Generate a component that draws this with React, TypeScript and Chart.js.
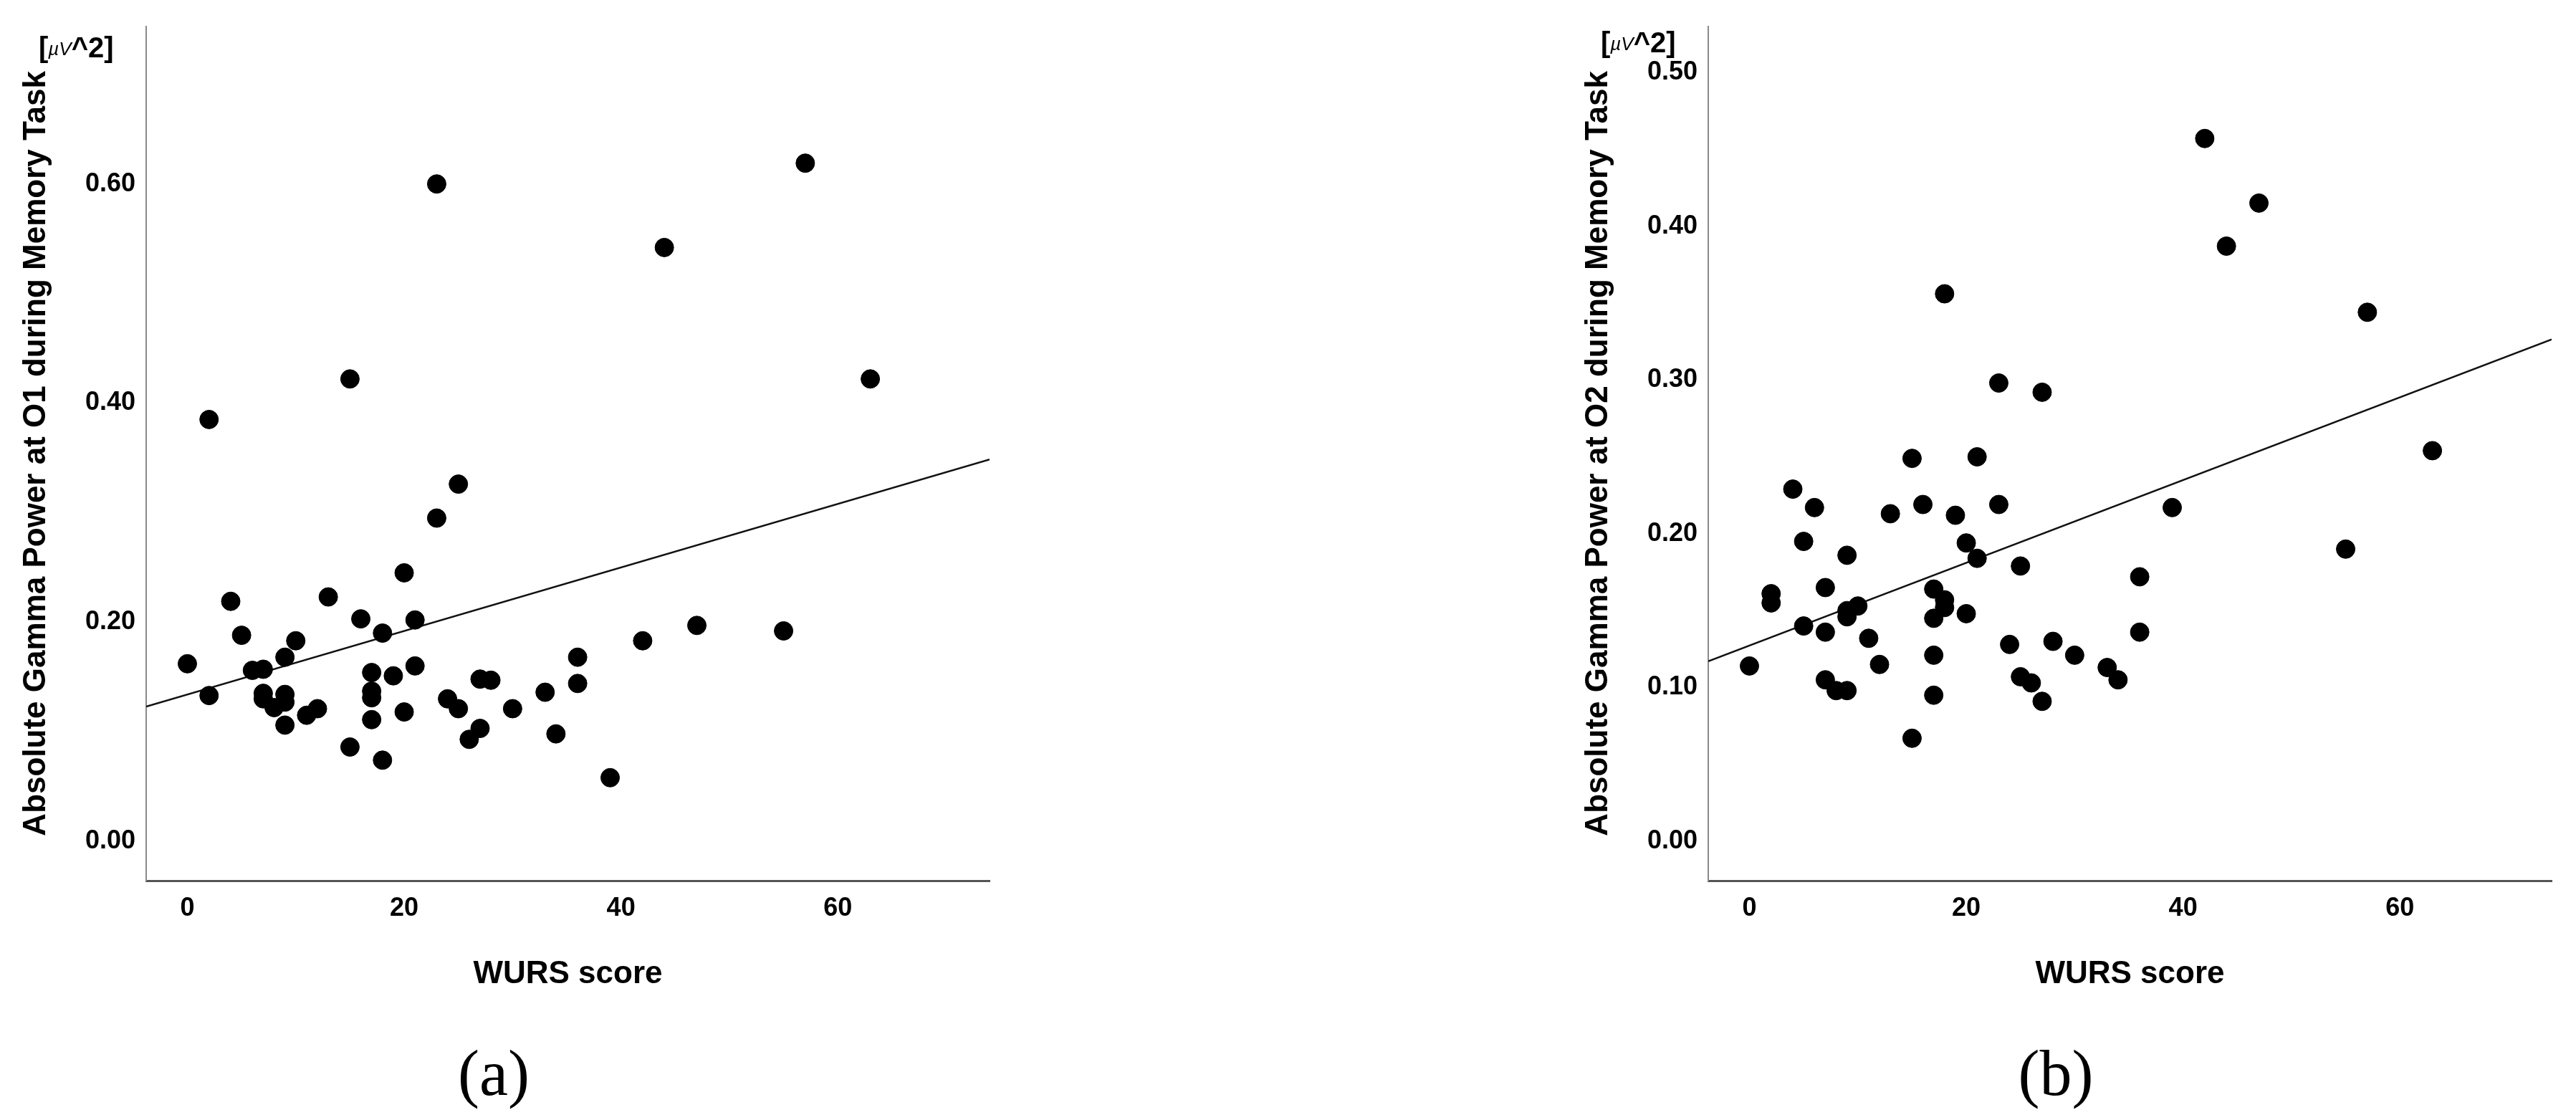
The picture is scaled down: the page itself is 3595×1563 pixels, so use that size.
import React, { useEffect, useRef } from "react";
import { Chart, registerables } from "chart.js";

Chart.register(...registerables);

// ---------- data ----------
const wursA = [0, 2, 2, 4, 5, 6, 7, 7, 7, 8, 9, 9, 9, 9, 10, 11, 12, 13, 15, 15, 16, 17, 17, 17, 17, 18, 18, 19, 20, 20, 21, 21, 23, 23, 24, 25, 25, 26, 27, 27, 28, 30, 33, 34, 36, 36, 39, 42, 44, 47, 55, 57, 63];
const gammaO1 = [0.162, 0.385, 0.133, 0.219, 0.188, 0.156, 0.157, 0.135, 0.130, 0.122, 0.168, 0.134, 0.127, 0.106, 0.183, 0.115, 0.121, 0.223, 0.422, 0.086, 0.203, 0.154, 0.137, 0.131, 0.111, 0.190, 0.074, 0.151, 0.245, 0.118, 0.202, 0.160, 0.600, 0.295, 0.130, 0.326, 0.121, 0.093, 0.148, 0.103, 0.147, 0.121, 0.136, 0.098, 0.168, 0.144, 0.058, 0.183, 0.542, 0.197, 0.192, 0.619, 0.422];

const wursB = [0, 2, 2, 4, 5, 5, 6, 7, 7, 7, 8, 9, 9, 9, 9, 10, 11, 12, 13, 15, 15, 16, 17, 17, 17, 17, 18, 18, 18, 19, 20, 20, 21, 21, 23, 23, 24, 25, 25, 26, 27, 27, 28, 30, 33, 34, 36, 36, 39, 42, 44, 47, 55, 57, 63];
const gammaO2 = [0.114, 0.161, 0.155, 0.229, 0.195, 0.140, 0.217, 0.165, 0.136, 0.105, 0.098, 0.186, 0.150, 0.146, 0.098, 0.153, 0.132, 0.115, 0.213, 0.249, 0.067, 0.219, 0.164, 0.145, 0.121, 0.095, 0.356, 0.157, 0.152, 0.212, 0.194, 0.148, 0.250, 0.184, 0.298, 0.219, 0.128, 0.179, 0.107, 0.103, 0.292, 0.091, 0.130, 0.121, 0.113, 0.105, 0.172, 0.136, 0.217, 0.457, 0.387, 0.415, 0.190, 0.344, 0.254];

const xTickValues = [0, 20, 40, 60];
const yTickValuesA = [0, 0.2, 0.4, 0.6];
const yTickValuesB = [0, 0.1, 0.2, 0.3, 0.4, 0.5];

const xRange = [-3.8, 74];
const yRangeA = [-0.036, 0.744];
const yRangeB = [-0.0256, 0.53];

// fitted regression lines (intercept, slope) as drawn in the reference
const fitA = [0.1339, 0.0029];
const fitB = [0.1273, 0.00269];

const FONT = "'Liberation Sans', Arial, Helvetica, sans-serif";
const SERIF = "'Liberation Serif', 'Times New Roman', Times, serif";

type PanelProps = {
  left: number;
  xs: number[];
  ys: number[];
  fit: number[];
  yRange: number[];
  yTicks: number[];
  yTitle: string;
  unitTop: number;
  label: string;
};

function Panel({ left, xs, ys, fit, yRange, yTicks, yTitle, unitTop, label }: PanelProps) {
  const ref = useRef<HTMLCanvasElement | null>(null);

  useEffect(() => {
    if (!ref.current) return;
    const points = xs.map((x, i) => ({ x, y: ys[i] }));
    const linePts = xRange.map((x) => ({ x, y: fit[0] + fit[1] * x }));
    const tickFont = { family: FONT, size: 36, weight: "bold" as const };
    const titleFont = { family: FONT, size: 44, weight: "bold" as const };
    const chart = new Chart(ref.current, {
      type: "scatter",
      data: {
        datasets: [
          {
            type: "scatter",
            data: points,
            pointRadius: 13,
            pointHoverRadius: 13,
            pointBackgroundColor: "#000",
            pointBorderColor: "#000",
            pointBorderWidth: 1,
          },
          {
            type: "line",
            data: linePts,
            borderColor: "#111",
            borderWidth: 2.5,
            pointRadius: 0,
            fill: false,
            tension: 0,
          } as any,
        ],
      },
      options: {
        animation: false,
        responsive: false,
        devicePixelRatio: 1,
        events: [],
        layout: { padding: { top: 35, right: 19, left: 0, bottom: 0 } },
        plugins: {
          legend: { display: false },
          tooltip: { enabled: false },
        },
        scales: {
          x: {
            type: "linear",
            min: xRange[0],
            max: xRange[1],
            grid: { display: false, drawTicks: false },
            border: { display: true, color: "#555", width: 3 },
            ticks: {
              font: tickFont,
              color: "#000",
              padding: 17,
              maxRotation: 0,
              callback: (v: any) => String(v),
            },
            afterBuildTicks: (s: any) => {
              s.ticks = xTickValues.map((v) => ({ value: v }));
            },
            afterFit: (s: any) => {
              s.height = 191;
            },
            title: {
              display: true,
              text: "WURS score",
              font: titleFont,
              color: "#000",
              padding: { top: 0, bottom: 34 },
            },
          },
          y: {
            type: "linear",
            min: yRange[0],
            max: yRange[1],
            grid: { display: false, drawTicks: false },
            border: { display: true, color: "#8a8a8a", width: 2 },
            ticks: {
              font: tickFont,
              color: "#000",
              padding: 15,
              callback: (v: any) => Number(v).toFixed(2),
            },
            afterBuildTicks: (s: any) => {
              s.ticks = yTicks.map((v) => ({ value: v }));
            },
            afterFit: (s: any) => {
              s.width = 204;
            },
            title: {
              display: true,
              text: yTitle,
              font: titleFont,
              color: "#000",
              padding: { top: 24, bottom: 0 },
            },
          },
        },
      },
    });
    return () => chart.destroy();
  }, []);

  return (
    <>
      <canvas
        ref={ref}
        width={1400}
        height={1420}
        style={{ position: "absolute", left, top: 0, width: 1400, height: 1420 }}
      />
      <div
        style={{
          position: "absolute",
          left: left + 54,
          top: unitTop,
          fontFamily: FONT,
          fontWeight: "bold",
          fontSize: 40,
          lineHeight: "40px",
          whiteSpace: "nowrap",
          color: "#000",
        }}
      >
        [
        <span style={{ fontSize: 26, fontStyle: "italic", fontWeight: "normal", lineHeight: "26px", verticalAlign: 3 }}>
          µV
        </span>
        ^2]
      </div>
      <div
        style={{
          position: "absolute",
          left: left + 689 - 200,
          width: 400,
          top: 1453,
          textAlign: "center",
          fontFamily: SERIF,
          fontSize: 90,
          lineHeight: "90px",
          color: "#000",
        }}
      >
        {label}
      </div>
    </>
  );
}

export default function App() {
  return (
    <div
      style={{
        position: "absolute",
        left: 0,
        top: 0,
        width: 3595,
        height: 1563,
        background: "#fff",
        overflow: "hidden",
      }}
    >
      <Panel
        left={0}
        xs={wursA}
        ys={gammaO1}
        fit={fitA}
        yRange={yRangeA}
        yTicks={yTickValuesA}
        yTitle="Absolute Gamma Power at O1 during Memory Task"
        unitTop={46}
        label="(a)"
      />
      <Panel
        left={2180}
        xs={wursB}
        ys={gammaO2}
        fit={fitB}
        yRange={yRangeB}
        yTicks={yTickValuesB}
        yTitle="Absolute Gamma Power at O2 during Memory Task"
        unitTop={39}
        label="(b)"
      />
    </div>
  );
}
